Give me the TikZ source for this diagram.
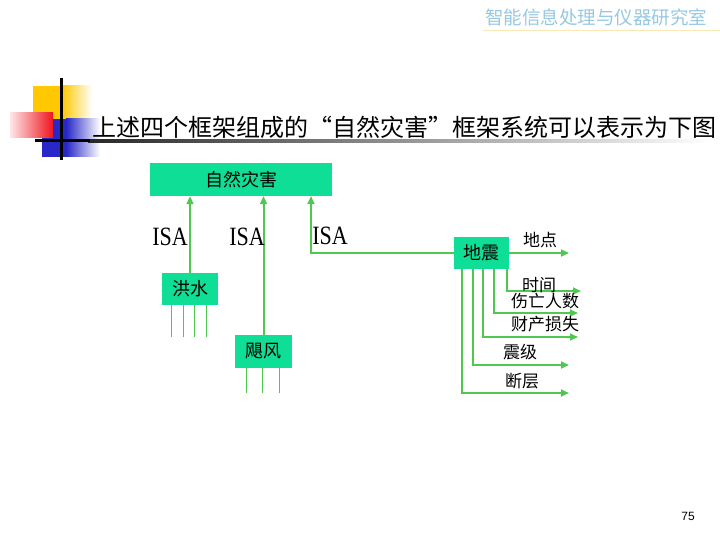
\documentclass[tikz,border=0pt]{standalone}
\usepackage{fontspec}
\setmainfont{Liberation Serif}
\newfontfamily\cjk{Noto Sans CJK SC}
\newfontfamily\pgsans{Liberation Sans}
\usetikzlibrary{arrows.meta,calc}
\definecolor{boxgreen}{RGB}{15,222,150}
\definecolor{linegreen}{RGB}{80,200,80}
\definecolor{headblue}{RGB}{150,200,225}
\definecolor{headline}{RGB}{250,232,185}
\definecolor{decoyellow}{RGB}{255,200,0}
\definecolor{decoblue}{RGB}{40,40,200}
\definecolor{decored}{RGB}{240,20,30}
\tikzset{
  framebox/.style={fill=boxgreen, draw=none, inner sep=0pt, font=\cjk\fontsize{18}{18}\selectfont},
  slotlabel/.style={inner sep=0pt, font=\cjk\fontsize{17}{17}\selectfont},
  isalabel/.style={inner sep=0pt, font=\fontsize{22}{22}\selectfont},
  arr/.style={draw=linegreen, line width=2pt, -{Triangle[length=8pt,width=7pt]}},
  leg/.style={draw=linegreen, line width=1.3pt},
}
\begin{document}
\begin{tikzpicture}[x=1pt,y=-1pt]
\useasboundingbox (0,0) rectangle (720,540);
% header
\node[inner sep=0pt, text=headblue, font=\cjk\fontsize{18.5}{18.5}\selectfont] (hdr) at (596,17.5) {智能信息处理与仪器研究室};
\draw[headline, line width=1pt] (483,31) -- (720,31);
% decoration
\fill[decoyellow] (33,86) rectangle (62,125);
\shade[left color=decoyellow, right color=white] (62,86) rectangle (92,125);
\fill[decoblue] (42,119) rectangle (66,157);
\shade[left color=decoblue, right color=white] (66,119) rectangle (100,157);
\shade[left color=decored!10, right color=decored] (10,113) rectangle (53,138);
\shade[left color=black!85, right color=white] (88,139.5) rectangle (712,142.5);
\fill[black] (35,139.5) rectangle (90,142.5);
\fill[black] (59.5,78) rectangle (62.5,160);
% title
\node[anchor=west, inner sep=0pt, font=\cjk\fontsize{24}{24}\selectfont] (title) at (92,127) {上述四个框架组成的“自然灾害”框架系统可以表示为下图};
% frames
\node[framebox, minimum width=182pt, minimum height=33pt] (zr) at (241,179.5) {自然灾害};
\node[framebox, minimum width=56pt, minimum height=32pt] (hs) at (190,289) {洪水};
\node[framebox, minimum width=57pt, minimum height=33pt] (jf) at (263.5,351.5) {飓风};
\node[framebox, minimum width=55pt, minimum height=32pt] (dz) at (481.5,253) {地震};
% ISA links
\draw[arr] (hs.north) -- (hs.north |- zr.south);
\draw[arr] (jf.north) -- (jf.north |- zr.south);
\coordinate (isa3) at (311,196);
\draw[arr] (dz.west) -| (isa3);
\node[isalabel] (isa1) at (170,237) {\scalebox{1}[1.2]{ISA}};
\node[isalabel] (isa2) at (247,237) {\scalebox{1}[1.2]{ISA}};
\node[isalabel] (isa3l) at (330,236) {\scalebox{1}[1.2]{ISA}};
% legs of 洪水 and 飓风
\foreach \dx [count=\i] in {10,22,33,45} {
  \coordinate (hsleg\i) at ($(hs.south west)+(\dx,32)$);
  \draw[leg] ($(hs.south west)+(\dx,0)$) -- (hsleg\i);
}
\foreach \dx [count=\i] in {11.5,28,44.5} {
  \coordinate (jfleg\i) at ($(jf.south west)+(\dx,25)$);
  \draw[leg] ($(jf.south west)+(\dx,0)$) -- (jfleg\i);
}
% slots of 地震
\coordinate (s1) at (569,253);
\coordinate (s2) at (581,291);
\coordinate (s3) at (578,313);
\coordinate (s4) at (578,337);
\coordinate (s5) at (569,365);
\coordinate (s6) at (569,393);
\draw[arr] (dz.east) -- (s1);
\draw[arr] ($(dz.south west)+(53,0)$) |- (s2);
\draw[arr] ($(dz.south west)+(40,0)$) |- (s3);
\draw[arr] ($(dz.south west)+(29,0)$) |- (s4);
\draw[arr] ($(dz.south west)+(19,0)$) |- (s5);
\draw[arr] ($(dz.south west)+(8,0)$) |- (s6);
\node[slotlabel] (l1) at (540,240) {地点};
\node[slotlabel] (l2) at (539,285) {时间};
\node[slotlabel] (l3) at (545,301) {伤亡人数};
\node[slotlabel] (l4) at (545,324) {财产损失};
\node[slotlabel] (l5) at (520,352) {震级};
\node[slotlabel] (l6) at (522,381) {断层};
% page number
\node[inner sep=0pt, font=\pgsans\fontsize{12}{12}\selectfont] (pg) at (688,516) {75};
\end{tikzpicture}
\end{document}
